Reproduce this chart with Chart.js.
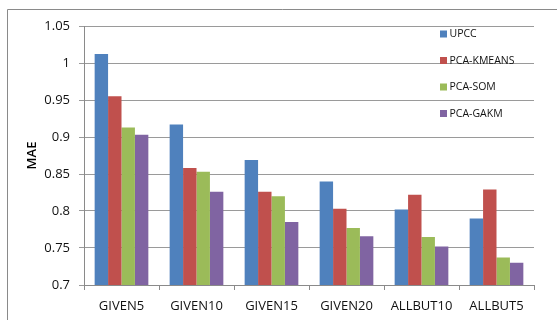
<!DOCTYPE html>
<html>
<head>
<meta charset="utf-8">
<script src="https://cdn.jsdelivr.net/npm/chart.js@4"></script>
<style>
  html, body { margin: 0; padding: 0; background: #fff; }
  #wrap { position: relative; width: 557px; height: 320px; }
</style>
</head>
<body>
<div id="wrap"><canvas id="mae"></canvas></div>
<script>
// Test settings along the x axis
const categories = ['GIVEN5', 'GIVEN10', 'GIVEN15', 'GIVEN20', 'ALLBUT10', 'ALLBUT5'];

// Mean absolute error per method
const upcc      = [1.012, 0.917, 0.869, 0.840, 0.802, 0.790];
const pcaKmeans = [0.955, 0.858, 0.826, 0.803, 0.822, 0.829];
const pcaSom    = [0.913, 0.853, 0.820, 0.777, 0.765, 0.737];
const pcaGakm   = [0.903, 0.826, 0.785, 0.766, 0.752, 0.730];

const seriesNames = ['UPCC', 'PCA-KMEANS', 'PCA-SOM', 'PCA-GAKM'];
const seriesColors = ['#4F81BD', '#C0504D', '#9BBB59', '#8064A2'];

// Y axis tick values and their printed labels
const yTickValues = [0.7, 0.75, 0.8, 0.85, 0.9, 0.95, 1, 1.05];
const yTickLabels = ['0.7', '0.75', '0.8', '0.85', '0.9', '0.95', '1', '1.05'];

const seriesValues = [upcc, pcaKmeans, pcaSom, pcaGakm];

const FONT = "'Open Sans', 'Liberation Sans', sans-serif";

// Frame line along the top and left of the canvas
const framePlugin = {
  id: 'frame',
  beforeDraw(chart) {
    const ctx = chart.ctx;
    ctx.save();
    ctx.strokeStyle = '#8a8a8a';
    ctx.lineWidth = 1;
    ctx.beginPath();
    ctx.moveTo(7.5, chart.height + 5);
    ctx.lineTo(7.5, 9.5);
    ctx.lineTo(chart.width + 5, 9.5);
    ctx.stroke();
    ctx.restore();
  }
};

// Vertical key drawn inside the plot area, top right
const keyPlugin = {
  id: 'key',
  afterDraw(chart) {
    const ctx = chart.ctx;
    const area = chart.chartArea;
    const boxX = area.right - 94;
    const firstY = area.top + 8;
    const step = 26.5;
    ctx.save();
    ctx.font = "10.5px " + FONT;
    ctx.textBaseline = 'middle';
    ctx.textAlign = 'left';
    chart.data.datasets.forEach((ds, i) => {
      const cy = firstY + i * step;
      ctx.fillStyle = ds.backgroundColor;
      ctx.fillRect(boxX, cy - 3.5, 7, 7);
      ctx.fillStyle = '#111';
      ctx.fillText(ds.label, boxX + 9.5, cy + 0.5);
    });
    ctx.restore();
  }
};

new Chart(document.getElementById('mae'), {
  type: 'bar',
  data: {
    labels: categories,
    datasets: seriesNames.map((name, i) => ({
      label: name,
      data: seriesValues[i],
      backgroundColor: seriesColors[i],
      borderWidth: 0,
      categoryPercentage: 0.716,
      barPercentage: 1.0
    }))
  },
  options: {
    responsive: true,
    maintainAspectRatio: false,
    animation: false,
    devicePixelRatio: 1,
    layout: { padding: { left: 0, right: 23, top: 26, bottom: 0 } },
    plugins: {
      legend: { display: false },
      tooltip: { enabled: false }
    },
    scales: {
      x: {
        offset: true,
        grid: {
          display: true,
          drawOnChartArea: false,
          drawTicks: true,
          tickLength: 5,
          color: '#8a8a8a',
          offset: true
        },
        border: { display: true, color: '#8a8a8a' },
        ticks: {
          color: '#111',
          font: { family: FONT, size: 13 },
          padding: 8,
          maxRotation: 0
        },
        afterFit(scale) { scale.height = 35; }
      },
      y: {
        min: 0.7,
        max: 1.05,
        afterBuildTicks(scale) {
          scale.ticks = yTickValues.map(v => ({ value: v }));
        },
        grid: {
          color: '#9a9a9a',
          drawTicks: true,
          tickLength: 5
        },
        border: { display: true, color: '#8a8a8a' },
        ticks: {
          color: '#111',
          font: { family: FONT, size: 13 },
          padding: 9,
          callback(value) {
            const idx = yTickValues.findIndex(v => Math.abs(v - value) < 1e-9);
            return idx >= 0 ? yTickLabels[idx] : '';
          }
        },
        title: {
          display: true,
          text: 'MAE',
          color: '#000',
          font: { family: FONT, size: 13, weight: '600' },
          padding: { top: 24, bottom: 0 }
        },
        afterFit(scale) { scale.width = 84; }
      }
    }
  },
  plugins: [framePlugin, keyPlugin]
});
</script>
</body>
</html>
